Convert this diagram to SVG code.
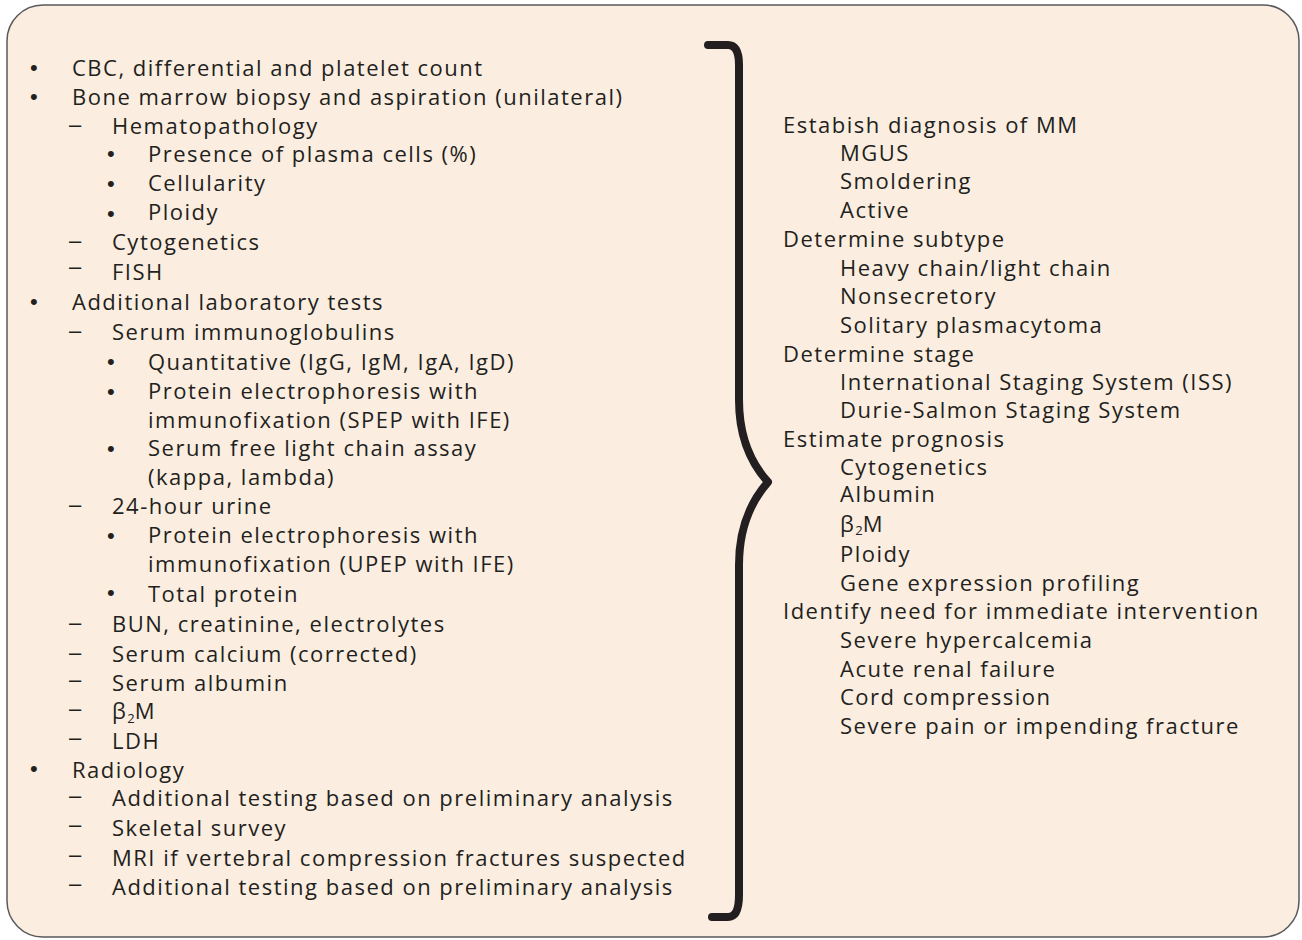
<svg xmlns="http://www.w3.org/2000/svg" width="1302" height="940" viewBox="0 0 1302 940">
<style>
.t{font-family:"Open Sans","Liberation Sans",sans-serif;font-size:22px;letter-spacing:1.5px;fill:#231f20}
.m{font-family:"Liberation Sans",Arial,sans-serif;font-size:22px;fill:#231f20}
.sub{font-size:13px;letter-spacing:0}
</style>
<rect x="7" y="5" width="1292" height="932" rx="36" ry="36" fill="#fbeee0" stroke="#58595b" stroke-width="1.5"/>
<g id="left">
<text class="m" x="30" y="75">•</text><text class="t" x="72" y="76" fill="#3a3a3a">CBC, differential and platelet count</text>
<text class="m" x="30" y="104">•</text><text class="t" x="72" y="105">Bone marrow biopsy and aspiration (unilateral)</text>
<text class="m" x="69" y="132">–</text><text class="t" x="112" y="134">Hematopathology</text>
<text class="m" x="107" y="161">•</text><text class="t" x="148" y="162">Presence of plasma cells (%)</text>
<text class="m" x="107" y="191">•</text><text class="t" x="148" y="191">Cellularity</text>
<text class="m" x="107" y="221">•</text><text class="t" x="148" y="220">Ploidy</text>
<text class="m" x="69" y="248">–</text><text class="t" x="112" y="250">Cytogenetics</text>
<text class="m" x="69" y="274">–</text><text class="t" x="112" y="280">FISH</text>
<text class="m" x="30" y="309">•</text><text class="t" x="72" y="310">Additional laboratory tests</text>
<text class="m" x="69" y="338">–</text><text class="t" x="112" y="340">Serum immunoglobulins</text>
<text class="m" x="107" y="369">•</text><text class="t" x="148" y="370">Quantitative (IgG, IgM, IgA, IgD)</text>
<text class="m" x="107" y="399">•</text><text class="t" x="148" y="399">Protein electrophoresis with</text>
<text class="t" x="148" y="428">immunofixation (SPEP with IFE)</text>
<text class="m" x="107" y="456">•</text><text class="t" x="148" y="456">Serum free light chain assay</text>
<text class="t" x="148" y="485">(kappa, lambda)</text>
<text class="m" x="69" y="512">–</text><text class="t" x="112" y="514">24-hour urine</text>
<text class="m" x="107" y="543">•</text><text class="t" x="148" y="543">Protein electrophoresis with</text>
<text class="t" x="148" y="572">immunofixation (UPEP with IFE)</text>
<text class="m" x="107" y="600">•</text><text class="t" x="148" y="602">Total protein</text>
<text class="m" x="69" y="630">–</text><text class="t" x="112" y="632">BUN, creatinine, electrolytes</text>
<text class="m" x="69" y="660">–</text><text class="t" x="112" y="662">Serum calcium (corrected)</text>
<text class="m" x="69" y="687">–</text><text class="t" x="112" y="691">Serum albumin</text>
<text class="m" x="69" y="716">–</text><text class="t" x="112" y="719">β<tspan class="sub" dy="4">2</tspan><tspan dy="-4">M</tspan></text>
<text class="m" x="69" y="745">–</text><text class="t" x="112" y="749">LDH</text>
<text class="m" x="30" y="776">•</text><text class="t" x="72" y="778">Radiology</text>
<text class="m" x="69" y="803">–</text><text class="t" x="112" y="806">Additional testing based on preliminary analysis</text>
<text class="m" x="69" y="832">–</text><text class="t" x="112" y="836">Skeletal survey</text>
<text class="m" x="69" y="862">–</text><text class="t" x="112" y="866">MRI if vertebral compression fractures suspected</text>
<text class="m" x="69" y="891">–</text><text class="t" x="112" y="895">Additional testing based on preliminary analysis</text>
</g>
<g id="brace">
<path d="M708,45 L728,45 Q739,45 739,65 L739,400 Q739,450 768,482 Q739,515 739,565 L739,895 Q739,917 728,917 L712,917" fill="none" stroke="#231f20" stroke-width="8" stroke-linecap="round" stroke-linejoin="round"/>
</g>
<g id="right">
<text class="t" x="783" y="133">Estabish diagnosis of MM</text>
<text class="t" x="840" y="161">MGUS</text>
<text class="t" x="840" y="189">Smoldering</text>
<text class="t" x="840" y="218">Active</text>
<text class="t" x="783" y="247">Determine subtype</text>
<text class="t" x="840" y="276">Heavy chain/light chain</text>
<text class="t" x="840" y="304">Nonsecretory</text>
<text class="t" x="840" y="333">Solitary plasmacytoma</text>
<text class="t" x="783" y="362">Determine stage</text>
<text class="t" x="840" y="390">International Staging System (ISS)</text>
<text class="t" x="840" y="418">Durie-Salmon Staging System</text>
<text class="t" x="783" y="447">Estimate prognosis</text>
<text class="t" x="840" y="475">Cytogenetics</text>
<text class="t" x="840" y="502">Albumin</text>
<text class="t" x="840" y="532">β<tspan class="sub" dy="3">2</tspan><tspan dy="-3">M</tspan></text>
<text class="t" x="840" y="562">Ploidy</text>
<text class="t" x="840" y="591">Gene expression profiling</text>
<text class="t" x="783" y="619">Identify need for immediate intervention</text>
<text class="t" x="840" y="648">Severe hypercalcemia</text>
<text class="t" x="840" y="677">Acute renal failure</text>
<text class="t" x="840" y="705">Cord compression</text>
<text class="t" x="840" y="734">Severe pain or impending fracture</text>
</g>
</svg>
